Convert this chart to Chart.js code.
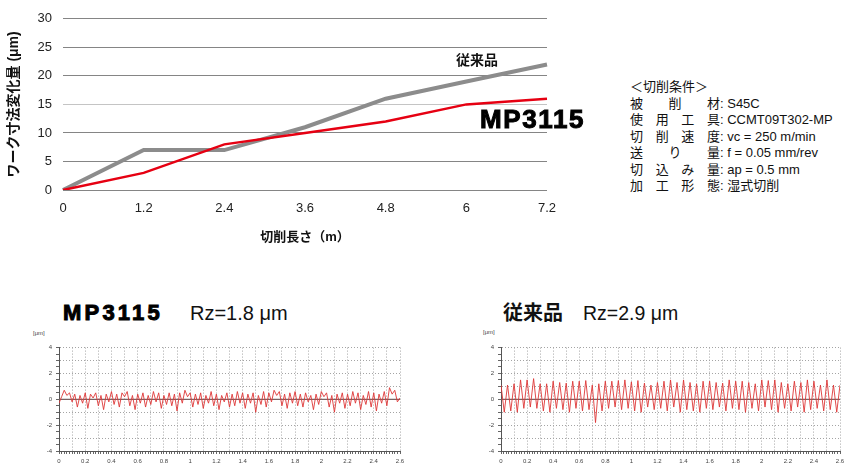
<!DOCTYPE html>
<html>
<head>
<meta charset="utf-8">
<title>MP3115 ワーク寸法変化量と面粗さ</title>
<script src="https://cdn.jsdelivr.net/npm/chart.js"></script>
<style>
  body {
    margin: 0;
    width: 850px;
    height: 475px;
    position: relative;
    overflow: hidden;
    background: #fff;
    color: #111;
    font-family: Arial, "Liberation Sans", "Noto Sans CJK JP", sans-serif;
  }
  canvas { position: absolute; }
  .txt { position: absolute; white-space: nowrap; z-index: 2; }
  .heavy { font-weight: bold; -webkit-text-stroke: 1px #000; color: #000; }
  .cond { font-size: 13px; line-height: 16.5px; }
  .cond .k { display: inline-block; width: 90px; text-align-last: justify; }
  .unit { font-size: 6px; color: #444; }
</style>
</head>
<body>
  <canvas id="mainChart" width="600" height="250" style="left:0;top:0"></canvas>
  <canvas id="profileNew" width="390" height="135" style="left:20px;top:340px"></canvas>
  <canvas id="profileOld" width="385" height="135" style="left:465px;top:340px"></canvas>

  <div class="txt" style="left:456px;top:53px;font-size:14px;line-height:14px;font-weight:bold">従来品</div>
  <div class="txt heavy" style="left:480px;top:106px;font-size:26px;line-height:26px;letter-spacing:1.6px">MP3115</div>

  <div class="txt cond" style="left:630px;top:79px">
    <div>＜切削条件＞</div>
    <div><span class="k">被削材</span>:&nbsp;S45C</div>
    <div><span class="k">使用工具</span>:&nbsp;CCMT09T302-MP</div>
    <div><span class="k">切削速度</span>:&nbsp;vc = 250 m/min</div>
    <div><span class="k">送り量</span>:&nbsp;f = 0.05 mm/rev</div>
    <div><span class="k">切込み量</span>:&nbsp;ap = 0.5 mm</div>
    <div><span class="k">加工形態</span>:&nbsp;湿式切削</div>
  </div>

  <div class="txt heavy" style="left:63px;top:302px;font-size:22px;line-height:22px;letter-spacing:3.2px">MP3115</div>
  <div class="txt" style="left:190px;top:303px;font-size:20px;line-height:20px">Rz=1.8 μm</div>
  <div class="txt" style="left:503px;top:303px;font-size:20px;line-height:20px;font-weight:bold">従来品</div>
  <div class="txt" style="left:583px;top:303px;font-size:19.5px;line-height:20px">Rz=2.9 μm</div>
  <div class="txt unit" style="left:33px;top:330px">[μm]</div>
  <div class="txt unit" style="left:483px;top:329px">[μm]</div>

<script>
// 切削長さ (m) とワーク寸法変化量 (μm)
const cutLength = [0, 1.2, 2.4, 3.6, 4.8, 6, 7.2];
const conventional = [0, 7, 7, 11, 16, 19, 22];
const mp3115 = [0, 3, 8, 10, 12, 15, 16];

// 面粗さプロファイル (μm)、評価長さ 2.6 mm
const profileLength = 2.6;
const mp3115Profile = [
  -0.3, 0.2, 0.7, 0.3, 0.5, -0.2, 0.4, -0.6, 0.3, -0.3, 0.5, -0.7, 0.4, 0.1, 0.5, -0.5,
  0.3, -0.8, 0.4, -0.2, 0.6, -0.4, 0.4, -0.6, 0.5, 0.2, 0.6, -0.5, 0.3, -0.8, 0.4, -0.3,
  0.5, -0.6, 0.3, -0.4, 0.6, -0.2, 0.5, -0.7, 0.3, -0.4, 0.5, -0.5, 0.4, -0.9, 0.5, -0.3,
  0.7, 0.2, 0.5, -0.6, 0.4, -0.4, 0.5, -0.7, 0.3, -0.3, 0.6, -0.5, 0.4, -0.8, 0.3, -0.2,
  0.5, -0.6, 0.4, -0.5, 0.6, -0.3, 0.5, -0.7, 0.4, -0.3, 0.5, -1.0, 0.3, -0.4, 0.6, -0.6,
  0.5, -0.2, 0.7, 0.3, 0.6, -0.5, 0.4, -0.7, 0.5, -0.3, 0.6, -0.5, 0.4, -0.6, 0.5, -0.2,
  0.3, -0.8, 0.4, -0.4, 0.6, 0.2, 0.5, -0.6, 0.3, -1.0, 0.4, -0.3, 0.5, -0.7, 0.4, -0.5,
  0.6, -0.3, 0.5, -0.8, 0.3, -0.4, 0.6, -0.6, 0.5, -0.9, 0.4, -0.3, 0.6, -0.5, 0.9, 0.4,
  0.7, -0.2, 0.1
];
// 従来品: 送りマーク 1 山ごとの山頂と谷底 (0.05 mm ピッチ)
const oldPeaks = [
  1.1, 1.1, 1.2, 1.5, 1.5, 1.6, 1.2, 1.2, 1.4, 1.3, 1.25, 1.4, 1.4, 1.45, 1.1, 1.2,
  1.4, 1.4, 1.45, 1.5, 1.35, 1.45, 1.25, 1.1, 1.3, 1.4, 1.5, 1.3, 1.5, 1.3, 1.2, 1.4,
  1.4, 1.3, 1.25, 1.5, 1.4, 1.4, 1.3, 1.2, 1.5, 1.45, 1.5, 1.3, 1.2, 1.4, 1.3, 1.5,
  1.4, 1.1, 1.5, 1.1, 1.1
];
const oldValleys = [
  -1.0, -0.9, -1.0, -0.7, -0.6, -0.7, -0.9, -1.0, -0.7, -0.8, -1.0, -0.7, -0.9, -0.8, -1.8, -0.9,
  -0.7, -0.6, -0.8, -0.7, -0.9, -1.0, -0.6, -0.8, -0.7, -0.9, -0.6, -1.0, -0.8, -0.9, -1.0, -0.7,
  -0.8, -0.6, -0.9, -0.7, -0.8, -1.0, -0.7, -0.9, -0.6, -0.8, -1.0, -0.7, -0.9, -0.6, -1.0, -0.8,
  -0.7, -0.9, -0.8, -1.0
];

const baseFont = 'Arial, "Liberation Sans", "Noto Sans CJK JP", sans-serif';
Chart.defaults.font.family = baseFont;

new Chart(document.getElementById('mainChart'), {
  type: 'line',
  data: {
    labels: cutLength,
    datasets: [
      { label: 'MP3115', data: mp3115, borderColor: '#e60012', borderWidth: 2.5, pointRadius: 0, tension: 0 },
      { label: '従来品', data: conventional, borderColor: '#8c8c8c', borderWidth: 4, pointRadius: 0, tension: 0 }
    ]
  },
  options: {
    responsive: false,
    animation: false,
    layout: { padding: { top: 15, right: 53, left: 0, bottom: 0 } },
    plugins: { legend: { display: false }, tooltip: { enabled: false } },
    scales: {
      x: {
        grid: { display: false, drawTicks: false },
        border: { display: false },
        ticks: { font: { size: 13 }, color: '#222', padding: 11, maxRotation: 0 },
        title: { display: true, text: '切削長さ（m）', font: { size: 13, weight: 'bold' }, color: '#111', padding: { top: 0, bottom: 5 } },
        afterFit: s => { s.height = 60; }
      },
      y: {
        min: 0,
        max: 30,
        ticks: { stepSize: 5, font: { size: 13 }, color: '#222', padding: 11 },
        grid: { color: c => c.tick.value === 15 ? '#c4c4c4' : '#858585', drawTicks: false },
        border: { display: false },
        title: { display: true, text: 'ワーク寸法変化量 (μm)', font: { size: 14, weight: 'bold' }, color: '#111', padding: { top: 6, bottom: 0 } },
        afterFit: s => { s.width = 63; }
      }
    }
  }
});

function isStep(v, step) {
  const r = v / step;
  return Math.abs(r - Math.round(r)) < 1e-6;
}

function profileChart(id, values, axisWidth) {
  const step = profileLength / (values.length - 1);
  const points = values.map((v, i) => ({ x: i * step, y: v }));
  const tickFont = { size: 6 };
  return new Chart(document.getElementById(id), {
    type: 'line',
    data: {
      datasets: [
        { data: points, borderColor: 'rgba(222,55,55,0.9)', borderWidth: 1, pointRadius: 0, tension: 0 },
        { data: [{ x: 0, y: 0 }, { x: profileLength, y: 0 }], borderColor: '#7a6262', borderWidth: 1.2, pointRadius: 0 }
      ]
    },
    options: {
      responsive: false,
      animation: false,
      layout: { padding: { top: 7, right: 10, left: 0, bottom: 0 } },
      plugins: { legend: { display: false }, tooltip: { enabled: false } },
      scales: {
        x: {
          type: 'linear',
          min: 0,
          max: profileLength,
          ticks: {
            stepSize: 0.02,
            autoSkip: false,
            maxRotation: 0,
            font: tickFont,
            color: '#444',
            padding: 4,
            callback: v => isStep(v, 0.2) ? String(Math.round(v * 10) / 10) : ''
          },
          grid: {
            color: c => isStep(c.tick.value, 0.1) ? '#a4a4a4' : 'rgba(0,0,0,0)',
            tickColor: '#666',
            tickLength: 3,
            tickBorderDash: []
          },
          border: { display: true, color: '#555', width: 1, dash: [1, 2] },
          afterFit: s => { s.height = 24; }
        },
        y: {
          min: -4,
          max: 4,
          ticks: {
            stepSize: 0.5,
            autoSkip: false,
            font: tickFont,
            color: '#444',
            padding: 4,
            callback: v => isStep(v, 2) ? String(v) : ''
          },
          grid: {
            color: c => isStep(c.tick.value, 1) ? '#a4a4a4' : 'rgba(0,0,0,0)',
            tickColor: '#666',
            tickLength: 3,
            tickBorderDash: []
          },
          border: { display: true, color: '#555', width: 1, dash: [1, 2] },
          afterFit: s => { s.width = axisWidth; }
        }
      }
    }
  });
}

const oldProfile = [];
oldPeaks.forEach((p, i) => {
  oldProfile.push(p);
  if (i < oldValleys.length) oldProfile.push(oldValleys[i]);
});

profileChart('profileNew', mp3115Profile, 39);
profileChart('profileOld', oldProfile, 36);
</script>
</body>
</html>
